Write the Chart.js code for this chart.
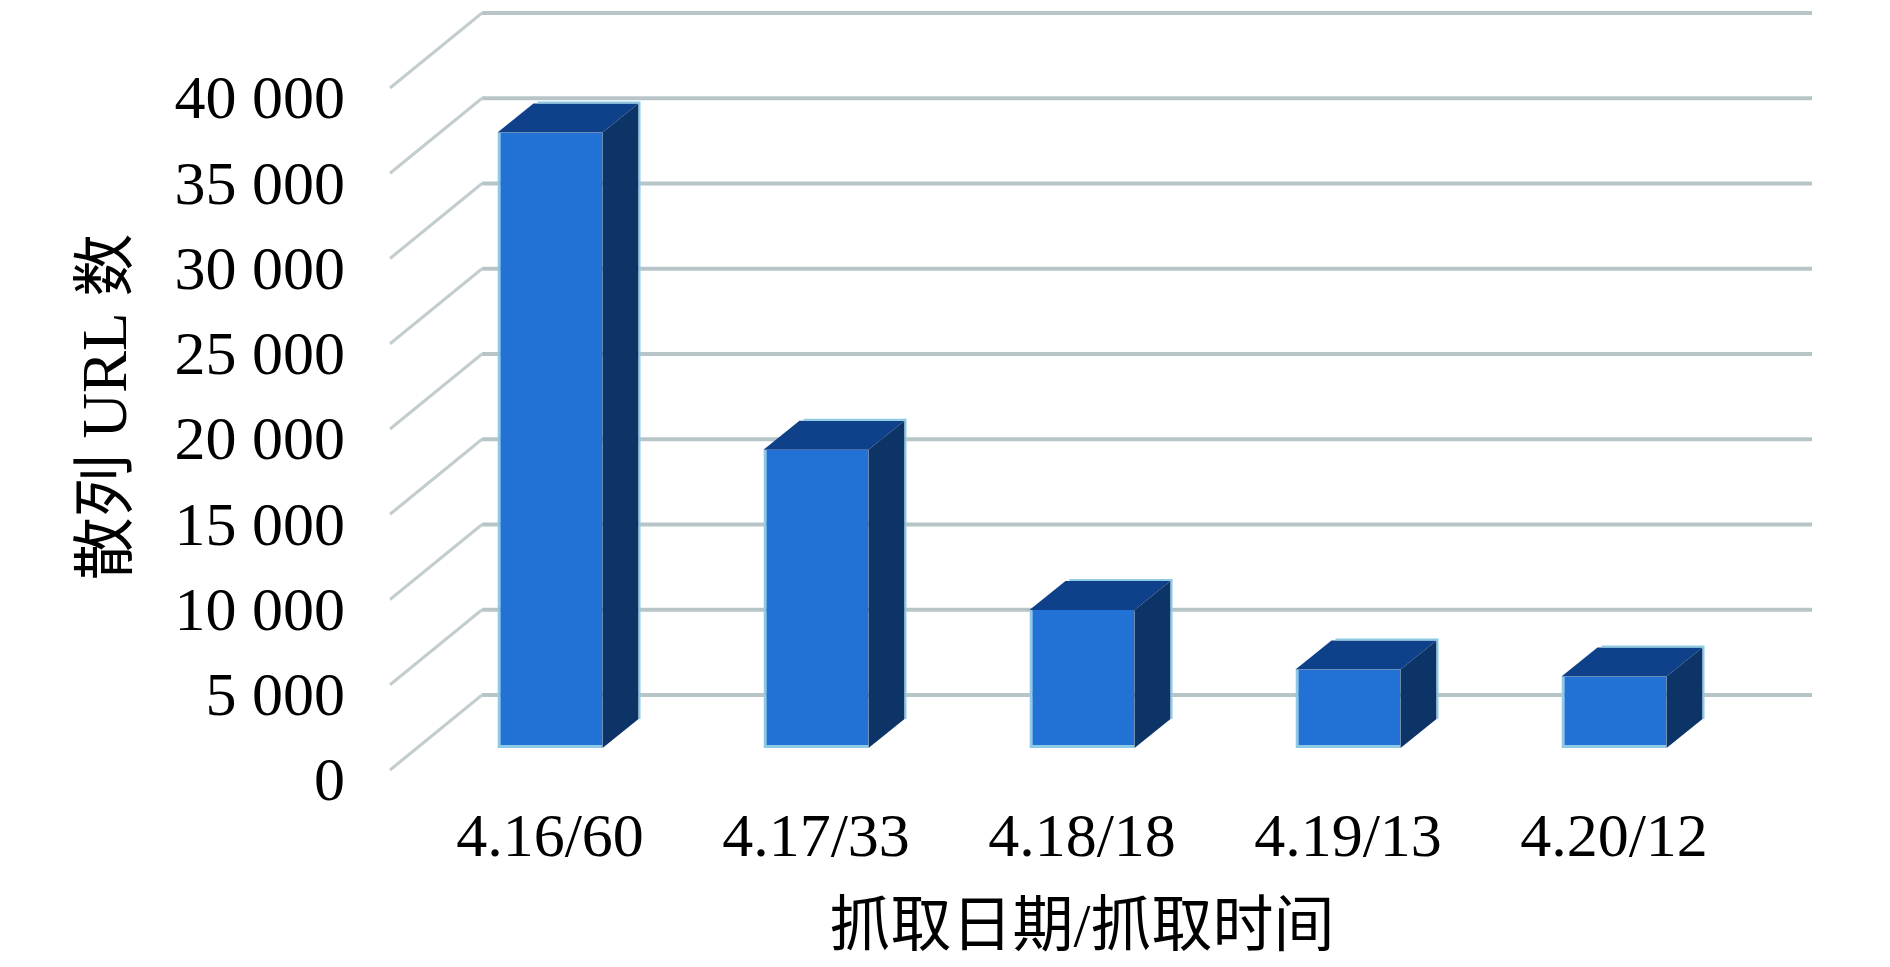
<!DOCTYPE html>
<html>
<head>
<meta charset="utf-8">
<script src="https://cdn.jsdelivr.net/npm/chart.js@4/dist/chart.umd.min.js"></script>
<style>
  html, body { margin: 0; padding: 0; background: #ffffff; }
  #wrap { width: 1890px; height: 967px; position: relative; }
</style>
</head>
<body>
<div id="wrap"><canvas id="c"></canvas></div>
<script>
// ---- data ----
const categories = ['4.16/60', '4.17/33', '4.18/18', '4.19/13', '4.20/12'];
const urlCounts = [36100, 17500, 8100, 4600, 4200];
const yTickValues = [0, 5000, 10000, 15000, 20000, 25000, 30000, 35000, 40000];
const yTickLabels = ['0', '5 000', '10 000', '15 000', '20 000', '25 000', '30 000', '35 000', '40 000'];
const xTitle = '抓取日期/抓取时间';
const yTitle = '散列 URL 数';

// ---- styling ----
const FONT = '"Liberation Serif", "Times New Roman", "Noto Sans CJK SC", serif';
const FRONT = '#2271D5';
const TOP = '#0E418A';
const SIDE = '#0D3466';
const EDGE = '#8DCBE5';
const GRID = '#B8C5C8';
const DIAG = '#C3CDD0';
// oblique depth geometry (px)
const BAR_DEPTH = { dx: 36, dy: -29 };     // depth of each box
const BACK = { dx: 65, dy: -53 };          // bar front plane -> back wall
const FRONTW = { dx: -27, dy: 22 };        // bar front plane -> front edge of side wall

const wallPlugin = {
  id: 'wall3d',
  beforeDatasetsDraw(chart) {
    const { ctx, chartArea, scales } = chart;
    const ys = scales.y;
    ctx.save();
    ctx.lineCap = 'butt';
    yTickValues.forEach(v => {
      const py = ys.getPixelForValue(v);
      // back wall line
      ctx.strokeStyle = GRID;
      ctx.lineWidth = 4;
      ctx.beginPath();
      ctx.moveTo(chartArea.left + BACK.dx, py + BACK.dy);
      ctx.lineTo(chartArea.right + BACK.dx, py + BACK.dy);
      ctx.stroke();
      // side wall diagonal
      ctx.strokeStyle = DIAG;
      ctx.lineWidth = 3;
      ctx.beginPath();
      ctx.moveTo(chartArea.left + FRONTW.dx, py + FRONTW.dy);
      ctx.lineTo(chartArea.left + BACK.dx, py + BACK.dy);
      ctx.stroke();
    });
    ctx.restore();
  },
  afterDatasetsDraw(chart) {
    const { ctx } = chart;
    const meta = chart.getDatasetMeta(0);
    ctx.save();
    meta.data.forEach(bar => {
      const p = bar.getProps(['x', 'y', 'base', 'width'], true);
      const l = p.x - p.width / 2, r = p.x + p.width / 2;
      const t = p.y, b = p.base;
      const dx = BAR_DEPTH.dx, dy = BAR_DEPTH.dy;
      // top face
      ctx.fillStyle = TOP;
      ctx.beginPath();
      ctx.moveTo(l, t); ctx.lineTo(l + dx, t + dy); ctx.lineTo(r + dx, t + dy); ctx.lineTo(r, t);
      ctx.closePath(); ctx.fill();
      // side face
      ctx.fillStyle = SIDE;
      ctx.beginPath();
      ctx.moveTo(r, t); ctx.lineTo(r + dx, t + dy); ctx.lineTo(r + dx, b + dy); ctx.lineTo(r, b);
      ctx.closePath(); ctx.fill();
      // light edges at back
      ctx.strokeStyle = EDGE;
      ctx.lineWidth = 2;
      ctx.beginPath();
      ctx.moveTo(l + dx + 4, t + dy - 1); ctx.lineTo(r + dx + 1, t + dy - 1); ctx.lineTo(r + dx + 1, b + dy);
      ctx.stroke();
    });
    ctx.restore();
  }
};

new Chart(document.getElementById('c'), {
  type: 'bar',
  data: {
    labels: categories,
    datasets: [{
      data: urlCounts,
      backgroundColor: FRONT,
      borderColor: EDGE,
      borderWidth: { left: 3, bottom: 3, top: 0, right: 0 },
      borderSkipped: false,
      barPercentage: 0.395,
      categoryPercentage: 1.0
    }]
  },
  options: {
    responsive: true,
    maintainAspectRatio: false,
    animation: false,
    events: [],
    layout: { padding: { left: 0, right: 143, top: 66, bottom: 0 } },
    plugins: { legend: { display: false }, tooltip: { enabled: false } },
    scales: {
      x: {
        offset: true,
        grid: { display: false, drawTicks: false },
        border: { display: false },
        ticks: { color: '#000', font: { family: FONT, size: 62 }, padding: 55, maxRotation: 0, autoSkip: false },
        title: { display: true, text: xTitle, color: '#000', font: { family: FONT, size: 61, lineHeight: 1.2 }, padding: { top: 0, bottom: 0 } },
        afterFit(scale) { scale.height = 219; scale.paddingLeft = 0; scale.paddingRight = 0; }
      },
      y: {
        min: 0, max: 40000,
        grid: { display: false, drawTicks: false },
        border: { display: false },
        afterBuildTicks(scale) { scale.ticks = yTickValues.map(v => ({ value: v })); },
        ticks: {
          color: '#000', font: { family: FONT, size: 62 }, padding: 72, labelOffset: 36,
          callback: (v, i) => yTickLabels[i]
        },
        title: { display: true, text: yTitle, color: '#000', font: { family: FONT, size: 63, lineHeight: 1.2 }, padding: { top: 72, bottom: 0 } },
        afterFit(scale) { scale.width = 417; scale.paddingTop = 0; scale.paddingBottom = 0; }
      }
    }
  },
  plugins: [wallPlugin]
});
</script>
</body>
</html>
